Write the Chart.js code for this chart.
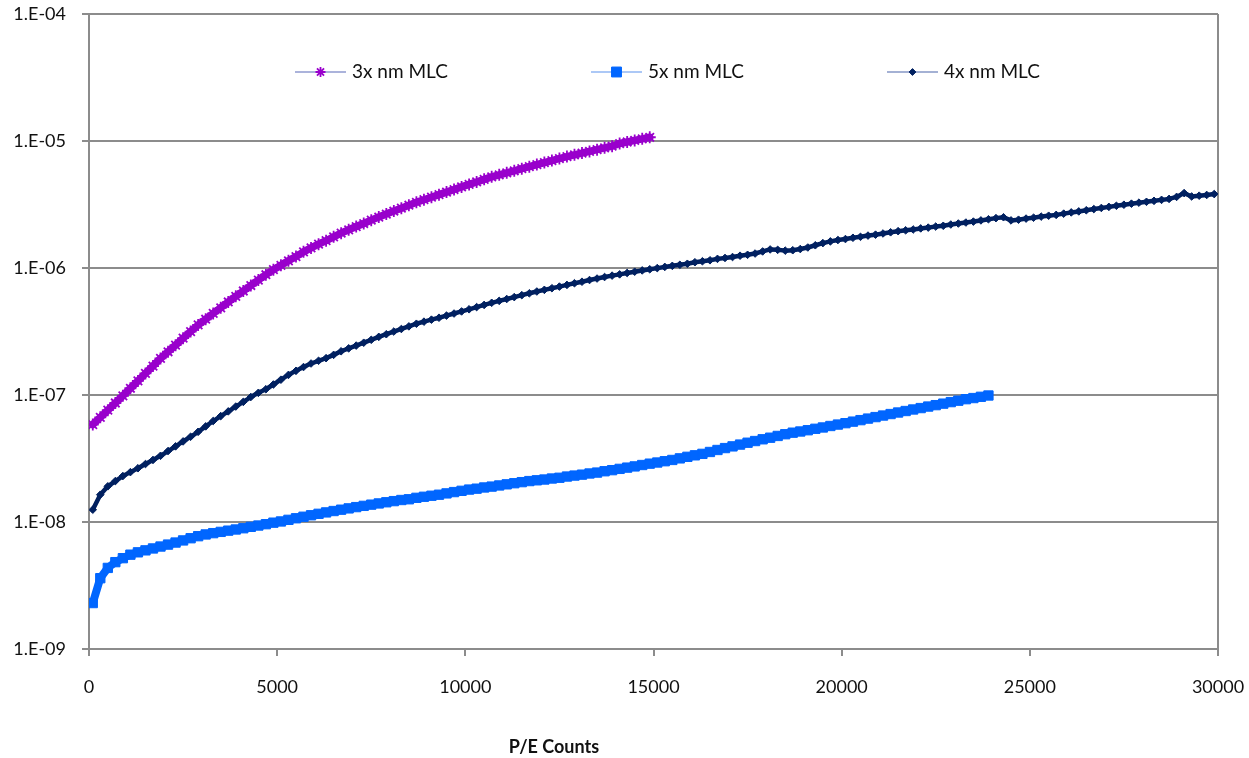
<!DOCTYPE html>
<html>
<head>
<meta charset="utf-8">
<script src="https://cdn.jsdelivr.net/npm/chart.js@4/dist/chart.umd.min.js"></script>
<style>
  html, body { margin: 0; padding: 0; background: #ffffff; }
  canvas { display: block; }
</style>
</head>
<body>
<canvas id="chart" width="1249" height="758"></canvas>
<script>
// Program/erase cycle counts at which each sample was taken
const peCounts = [
  100, 300, 500, 700, 900, 1100, 1300, 1500, 1700, 1900,
  2100, 2300, 2500, 2700, 2900, 3100, 3300, 3500, 3700, 3900,
  4100, 4300, 4500, 4700, 4900, 5100, 5300, 5500, 5700, 5900,
  6100, 6300, 6500, 6700, 6900, 7100, 7300, 7500, 7700, 7900,
  8100, 8300, 8500, 8700, 8900, 9100, 9300, 9500, 9700, 9900,
  10100, 10300, 10500, 10700, 10900, 11100, 11300, 11500, 11700, 11900,
  12100, 12300, 12500, 12700, 12900, 13100, 13300, 13500, 13700, 13900,
  14100, 14300, 14500, 14700, 14900, 15100, 15300, 15500, 15700, 15900,
  16100, 16300, 16500, 16700, 16900, 17100, 17300, 17500, 17700, 17900,
  18100, 18300, 18500, 18700, 18900, 19100, 19300, 19500, 19700, 19900,
  20100, 20300, 20500, 20700, 20900, 21100, 21300, 21500, 21700, 21900,
  22100, 22300, 22500, 22700, 22900, 23100, 23300, 23500, 23700, 23900,
  24100, 24300, 24500, 24700, 24900, 25100, 25300, 25500, 25700, 25900,
  26100, 26300, 26500, 26700, 26900, 27100, 27300, 27500, 27700, 27900,
  28100, 28300, 28500, 28700, 28900, 29100, 29300, 29500, 29700, 29900
];

// Raw bit error rate, 3x nm MLC (samples up to 14900 cycles)
const mlc3x = [
  5.85e-8, 6.67e-8, 7.59e-8, 8.65e-8, 9.86e-8, 1.13e-7, 1.29e-7, 1.48e-7, 1.69e-7, 1.94e-7,
  2.19e-7, 2.47e-7, 2.80e-7, 3.16e-7, 3.56e-7, 3.95e-7, 4.39e-7, 4.86e-7, 5.40e-7, 5.98e-7,
  6.59e-7, 7.28e-7, 8.04e-7, 8.85e-7, 9.70e-7, 1.05e-6, 1.14e-6, 1.23e-6, 1.34e-6, 1.44e-6,
  1.54e-6, 1.64e-6, 1.76e-6, 1.88e-6, 2.00e-6, 2.12e-6, 2.24e-6, 2.38e-6, 2.52e-6, 2.66e-6,
  2.81e-6, 2.96e-6, 3.12e-6, 3.29e-6, 3.45e-6, 3.61e-6, 3.78e-6, 3.96e-6, 4.15e-6, 4.35e-6,
  4.55e-6, 4.76e-6, 4.99e-6, 5.22e-6, 5.42e-6, 5.62e-6, 5.83e-6, 6.05e-6, 6.28e-6, 6.52e-6,
  6.76e-6, 7.01e-6, 7.28e-6, 7.54e-6, 7.78e-6, 8.04e-6, 8.28e-6, 8.55e-6, 8.83e-6, 9.10e-6,
  9.55e-6, 9.82e-6, 1.01e-5, 1.04e-5, 1.07e-5
];

// Raw bit error rate, 5x nm MLC (samples up to 23900 cycles)
const mlc5x = [
  2.30e-9, 3.61e-9, 4.35e-9, 4.83e-9, 5.19e-9, 5.53e-9, 5.77e-9, 5.98e-9, 6.19e-9, 6.41e-9,
  6.64e-9, 6.89e-9, 7.16e-9, 7.45e-9, 7.73e-9, 7.98e-9, 8.17e-9, 8.36e-9, 8.55e-9, 8.73e-9,
  8.93e-9, 9.16e-9, 9.38e-9, 9.61e-9, 9.88e-9, 1.01e-8, 1.04e-8, 1.07e-8, 1.10e-8, 1.13e-8,
  1.16e-8, 1.19e-8, 1.22e-8, 1.25e-8, 1.28e-8, 1.31e-8, 1.34e-8, 1.37e-8, 1.40e-8, 1.43e-8,
  1.46e-8, 1.49e-8, 1.51e-8, 1.55e-8, 1.58e-8, 1.61e-8, 1.64e-8, 1.68e-8, 1.72e-8, 1.76e-8,
  1.80e-8, 1.83e-8, 1.87e-8, 1.90e-8, 1.94e-8, 1.98e-8, 2.02e-8, 2.06e-8, 2.10e-8, 2.13e-8,
  2.16e-8, 2.20e-8, 2.23e-8, 2.28e-8, 2.32e-8, 2.36e-8, 2.41e-8, 2.45e-8, 2.51e-8, 2.56e-8,
  2.62e-8, 2.68e-8, 2.74e-8, 2.81e-8, 2.88e-8, 2.94e-8, 3.01e-8, 3.08e-8, 3.17e-8, 3.26e-8,
  3.35e-8, 3.44e-8, 3.56e-8, 3.69e-8, 3.82e-8, 3.94e-8, 4.07e-8, 4.21e-8, 4.34e-8, 4.48e-8,
  4.61e-8, 4.76e-8, 4.91e-8, 5.05e-8, 5.16e-8, 5.28e-8, 5.42e-8, 5.55e-8, 5.70e-8, 5.85e-8,
  6.00e-8, 6.17e-8, 6.34e-8, 6.52e-8, 6.70e-8, 6.89e-8, 7.08e-8, 7.28e-8, 7.48e-8, 7.69e-8,
  7.89e-8, 8.11e-8, 8.32e-8, 8.55e-8, 8.79e-8, 9.02e-8, 9.27e-8, 9.46e-8, 9.68e-8, 9.91e-8
];

// Raw bit error rate, 4x nm MLC (samples up to 29900 cycles)
const mlc4x = [
  1.25e-8, 1.64e-8, 1.91e-8, 2.10e-8, 2.30e-8, 2.47e-8, 2.65e-8, 2.86e-8, 3.08e-8, 3.32e-8,
  3.62e-8, 3.94e-8, 4.31e-8, 4.69e-8, 5.13e-8, 5.66e-8, 6.24e-8, 6.82e-8, 7.43e-8, 8.11e-8,
  8.83e-8, 9.64e-8, 1.04e-7, 1.11e-7, 1.21e-7, 1.32e-7, 1.44e-7, 1.55e-7, 1.66e-7, 1.77e-7,
  1.86e-7, 1.95e-7, 2.07e-7, 2.21e-7, 2.33e-7, 2.45e-7, 2.58e-7, 2.72e-7, 2.87e-7, 3.01e-7,
  3.16e-7, 3.31e-7, 3.47e-7, 3.64e-7, 3.78e-7, 3.92e-7, 4.06e-7, 4.22e-7, 4.38e-7, 4.55e-7,
  4.73e-7, 4.92e-7, 5.12e-7, 5.32e-7, 5.51e-7, 5.70e-7, 5.90e-7, 6.11e-7, 6.32e-7, 6.53e-7,
  6.73e-7, 6.93e-7, 7.14e-7, 7.36e-7, 7.59e-7, 7.80e-7, 8.04e-7, 8.26e-7, 8.49e-7, 8.71e-7,
  8.91e-7, 9.14e-7, 9.35e-7, 9.57e-7, 9.77e-7, 9.98e-7, 1.02e-6, 1.04e-6, 1.06e-6, 1.08e-6,
  1.11e-6, 1.13e-6, 1.15e-6, 1.18e-6, 1.20e-6, 1.22e-6, 1.25e-6, 1.27e-6, 1.30e-6, 1.35e-6,
  1.40e-6, 1.39e-6, 1.37e-6, 1.38e-6, 1.41e-6, 1.45e-6, 1.51e-6, 1.57e-6, 1.62e-6, 1.66e-6,
  1.69e-6, 1.73e-6, 1.76e-6, 1.80e-6, 1.83e-6, 1.87e-6, 1.91e-6, 1.95e-6, 1.98e-6, 2.01e-6,
  2.05e-6, 2.08e-6, 2.12e-6, 2.15e-6, 2.20e-6, 2.24e-6, 2.28e-6, 2.32e-6, 2.37e-6, 2.42e-6,
  2.47e-6, 2.51e-6, 2.37e-6, 2.40e-6, 2.45e-6, 2.49e-6, 2.54e-6, 2.58e-6, 2.62e-6, 2.68e-6,
  2.74e-6, 2.79e-6, 2.85e-6, 2.91e-6, 2.97e-6, 3.03e-6, 3.09e-6, 3.15e-6, 3.21e-6, 3.27e-6,
  3.32e-6, 3.38e-6, 3.44e-6, 3.50e-6, 3.63e-6, 3.89e-6, 3.66e-6, 3.71e-6, 3.76e-6, 3.82e-6
];

const seriesNames = ['3x nm MLC', '5x nm MLC', '4x nm MLC'];
const yTickValues = [1e-9, 1e-8, 1e-7, 1e-6, 1e-5, 1e-4];
const yTickLabels = ['1.E-09', '1.E-08', '1.E-07', '1.E-06', '1.E-05', '1.E-04'];
const xAxisTitle = 'P/E Counts';

const GRID = '#8c8c8c';
const FONT = 'Lato, "Open Sans", sans-serif';

function toPoints(values) {
  return values.map((v, i) => ({ x: peCounts[i], y: v }));
}

// Legend drawn inside the plot: short line with the series marker, then the name
const inlineLegend = {
  id: 'inlineLegend',
  afterDraw(chart) {
    const { ctx, chartArea } = chart;
    const y = chartArea.top + 58;
    chart.data.datasets.forEach((ds, i) => {
      const x0 = chartArea.left + 206 + i * 296;
      ctx.save();
      ctx.strokeStyle = ds.legendLine;
      ctx.lineWidth = 1.2;
      ctx.beginPath();
      ctx.moveTo(x0, y);
      ctx.lineTo(x0 + 51, y);
      ctx.stroke();
      ctx.fillStyle = ds.backgroundColor;
      ctx.strokeStyle = ds.pointBorderColor;
      ctx.lineWidth = ds.pointBorderWidth;
      Chart.helpers.drawPoint(ctx, {
        pointStyle: ds.pointStyle,
        rotation: 0,
        radius: ds.legendRadius,
        borderWidth: ds.pointBorderWidth
      }, x0 + 25.5, y);
      ctx.fillStyle = '#111111';
      ctx.font = '19px ' + FONT;
      ctx.textAlign = 'left';
      ctx.textBaseline = 'middle';
      ctx.fillText(ds.label, x0 + 57, y);
      ctx.restore();
    });
  }
};

// Bold x axis title below the tick labels
const axisTitle = {
  id: 'axisTitle',
  afterDraw(chart) {
    const { ctx, chartArea } = chart;
    ctx.save();
    ctx.fillStyle = '#111111';
    ctx.font = 'bold 18px ' + FONT;
    ctx.textAlign = 'center';
    ctx.textBaseline = 'middle';
    ctx.fillText(xAxisTitle, chartArea.left + 465, chartArea.bottom + 98);
    ctx.restore();
  }
};

new Chart(document.getElementById('chart'), {
  type: 'line',
  data: {
    datasets: [
      {
        label: seriesNames[0],
        data: toPoints(mlc3x),
        borderColor: '#9900cc',
        borderWidth: 7.5,
        backgroundColor: '#9900cc',
        pointStyle: 'star',
        pointRadius: 6,
        pointBorderColor: '#9900cc',
        pointBorderWidth: 1.8,
        legendLine: '#5868b8',
        legendRadius: 5
      },
      {
        label: seriesNames[1],
        data: toPoints(mlc5x),
        borderColor: '#0066ff',
        borderWidth: 8,
        backgroundColor: '#0066ff',
        pointStyle: 'rect',
        pointRadius: 6.6,
        pointBorderColor: '#0066ff',
        pointBorderWidth: 1,
        legendLine: '#5a92ee',
        legendRadius: 7
      },
      {
        label: seriesNames[2],
        data: toPoints(mlc4x),
        borderColor: '#002060',
        borderWidth: 4.5,
        backgroundColor: '#002060',
        pointStyle: 'rectRot',
        pointRadius: 3.8,
        pointBorderColor: '#002060',
        pointBorderWidth: 1,
        legendLine: '#4a64aa',
        legendRadius: 3.4
      }
    ]
  },
  options: {
    responsive: false,
    animation: false,
    layout: { padding: { top: 14, right: 31, left: 0, bottom: 0 } },
    plugins: {
      legend: { display: false },
      tooltip: { enabled: false }
    },
    elements: { line: { tension: 0, borderJoinStyle: 'round', borderCapStyle: 'round' } },
    scales: {
      x: {
        type: 'linear',
        min: 0,
        max: 30000,
        ticks: {
          stepSize: 5000,
          color: '#111111',
          font: { family: FONT, size: 18 },
          padding: 20,
          maxRotation: 0,
          callback: (v) => String(v)
        },
        grid: {
          color: (c) => (c.tick && c.tick.value === 30000 ? GRID : 'rgba(0,0,0,0)'),
          lineWidth: 2,
          tickColor: GRID,
          tickWidth: 2,
          tickLength: 7,
          drawTicks: true
        },
        border: { display: true, color: GRID, width: 2 },
        afterFit: (s) => {
          s.height = 109;
          s.paddingLeft = 0;
          s.paddingRight = 0;
        }
      },
      y: {
        type: 'logarithmic',
        min: 1e-9,
        max: 1e-4,
        afterBuildTicks: (s) => { s.ticks = yTickValues.map((v) => ({ value: v })); },
        ticks: {
          color: '#111111',
          font: { family: FONT, size: 18 },
          padding: 16,
          callback: (v, i) => yTickLabels[i]
        },
        grid: {
          color: GRID,
          lineWidth: 2,
          tickColor: GRID,
          tickWidth: 2,
          tickLength: 7
        },
        border: { display: true, color: GRID, width: 2 },
        afterFit: (s) => {
          s.width = 89;
          s.paddingTop = 0;
          s.paddingBottom = 0;
        }
      }
    }
  },
  plugins: [inlineLegend, axisTitle]
});
</script>
</body>
</html>
